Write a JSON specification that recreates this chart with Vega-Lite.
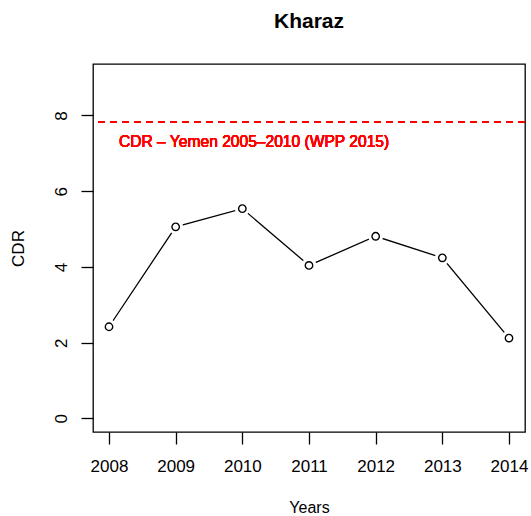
{
  "$schema": "https://vega.github.io/schema/vega-lite/v6.json",
  "width": 432,
  "height": 368,
  "autosize": {"type": "none"},
  "padding": {"left": 93, "top": 64, "right": 6, "bottom": 84},
  "background": "white",
  "config": {
    "font": "Liberation Sans",
    "view": {"stroke": "black", "strokeWidth": 1.3},
    "axis": {"grid": false, "domain": false, "tickColor": "black", "tickWidth": 1.3, "tickSize": 12, "labelColor": "black", "titleColor": "black", "labelFont": "Liberation Sans", "titleFont": "Liberation Sans", "titleFontWeight": "normal"}
  },
  "title": {"text": "Kharaz", "fontSize": 21, "fontWeight": "bold", "color": "black", "font": "Liberation Sans", "baseline": "alphabetic", "offset": 15},
  "data": {
    "values": [
      {"year": 2008, "cdr": 2.42},
      {"year": 2009, "cdr": 5.06},
      {"year": 2010, "cdr": 5.54},
      {"year": 2011, "cdr": 4.04},
      {"year": 2012, "cdr": 4.81},
      {"year": 2013, "cdr": 4.24},
      {"year": 2014, "cdr": 2.12}
    ]
  },
  "encoding": {
    "x": {
      "field": "year", "type": "quantitative",
      "scale": {"domain": [2007.76, 2014.24], "nice": false, "zero": false},
      "axis": {"values": [2008, 2009, 2010, 2011, 2012, 2013, 2014], "format": "d", "labelFontSize": 17, "labelPadding": 14, "title": "Years", "titleFontSize": 16, "titleBaseline": "alphabetic", "titleY": 80.5, "labelFlush": false, "labelOverlap": false}
    },
    "y": {
      "field": "cdr", "type": "quantitative",
      "scale": {"domain": [-0.36, 9.36], "nice": false, "zero": false},
      "axis": {"values": [0, 2, 4, 6, 8], "labelFontSize": 17, "labelAngle": -90, "labelAlign": "center", "labelBaseline": "alphabetic", "labelPadding": 15, "title": "CDR", "titleFontSize": 17, "titleBaseline": "alphabetic", "titleX": -70, "titleAngle": -90, "labelFlush": false}
    }
  },
  "layer": [
    {
      "mark": {"type": "rule", "color": "#ff0000", "strokeWidth": 1.6, "strokeDash": [7, 5]},
      "encoding": {"y": {"datum": 7.83}, "x": null}
    },
    {
      "mark": {"type": "text", "color": "#ff0000", "fontSize": 15.6, "fontWeight": "normal", "align": "left", "baseline": "middle", "font": "Liberation Sans"},
      "encoding": {"x": {"datum": 2008.15}, "y": {"datum": 7.29}, "text": {"value": "CDR – Yemen 2005–2010 (WPP 2015)"}}
    },
    {
      "mark": {"type": "line", "color": "black", "strokeWidth": 1.3}
    },
    {
      "mark": {"type": "point", "shape": "circle", "filled": true, "color": "white", "size": 220, "opacity": 1}
    },
    {
      "mark": {"type": "point", "shape": "circle", "filled": false, "color": "black", "strokeWidth": 1.4, "size": 55, "opacity": 1}
    }
  ]
}
